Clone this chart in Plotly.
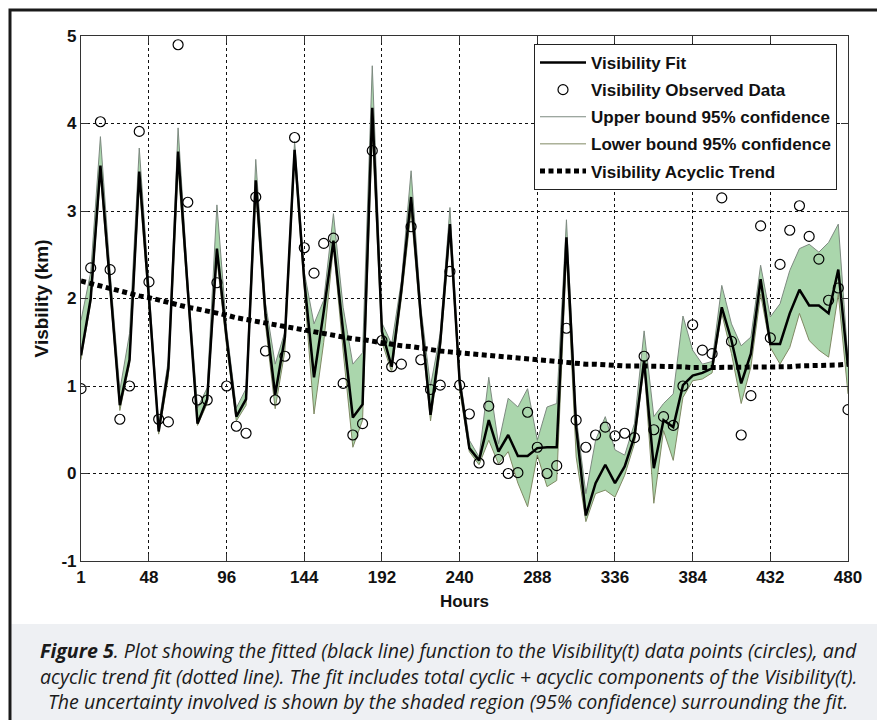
import plotly.graph_objects as go

# Six-hourly samples (index 1..80 -> hours 6..480)
hours = list(range(6, 481, 6))

observed = [0.97, 2.35, 4.02, 2.33, 0.62, 1.00, 3.91, 2.19, 0.62, 0.59,
            4.90, 3.10, 0.84, 0.84, 2.18, 1.00, 0.54, 0.46, 3.16, 1.40,
            0.84, 1.34, 3.84, 2.58, 2.29, 2.63, 2.69, 1.03, 0.44, 0.57,
            3.69, 1.52, 1.22, 1.25, 2.82, 1.30, 0.96, 1.01, 2.31, 1.01,
            0.68, 0.12, 0.77, 0.16, 0.00, 0.01, 0.70, 0.30, 0.00, 0.09,
            1.66, 0.61, 0.30, 0.44, 0.53, 0.43, 0.46, 0.41, 1.34, 0.50,
            0.65, 0.55, 1.00, 1.70, 1.41, 1.37, 3.15, 1.51, 0.44, 0.89,
            2.83, 1.55, 2.39, 2.78, 3.06, 2.71, 2.45, 1.98, 2.12, 0.73]

fit = [1.35, 2.00, 3.52, 2.20, 0.78, 1.30, 3.45, 2.00, 0.48, 1.20,
       3.68, 2.10, 0.57, 0.85, 2.57, 1.55, 0.65, 0.85, 3.35, 1.82,
       0.90, 1.56, 3.70, 2.20, 1.10, 1.85, 2.66, 1.62, 0.64, 0.79,
       4.18, 1.62, 1.22, 2.10, 3.16, 1.80, 0.67, 1.50, 2.85, 1.05,
       0.29, 0.15, 0.61, 0.25, 0.44, 0.20, 0.20, 0.29, 0.30, 0.30,
       2.70, 0.53, -0.48, -0.11, 0.10, -0.11, 0.08, 0.42, 1.29, 0.06,
       0.61, 0.53, 1.01, 1.12, 1.15, 1.20, 1.90, 1.52, 1.03, 1.37,
       2.22, 1.48, 1.48, 1.83, 2.10, 1.92, 1.92, 1.83, 2.33, 1.22]

upper = [1.75, 2.30, 3.85, 2.30, 0.95, 1.60, 3.72, 2.10, 0.55, 1.30,
         3.95, 2.20, 0.75, 0.98, 3.07, 1.65, 0.75, 0.97, 3.59, 1.95,
         1.25, 1.62, 3.80, 2.30, 1.71, 1.98, 2.97, 1.90, 1.25, 1.38,
         4.66, 1.72, 1.48, 2.20, 3.46, 1.90, 1.00, 1.60, 3.04, 1.12,
         0.38, 0.19, 1.10, 0.34, 0.86, 0.76, 0.97, 0.38, 0.76, 0.80,
         2.90, 0.65, -0.23, 0.38, 0.65, 0.27, 0.21, 0.57, 1.63, 0.65,
         0.80, 0.91, 1.80, 1.41, 1.25, 1.28, 2.15, 1.71, 1.46, 1.56,
         2.38, 1.79, 1.94, 2.32, 2.57, 2.62, 2.53, 2.64, 2.85, 1.30]

lower = [1.30, 1.95, 3.40, 2.10, 0.72, 1.25, 3.30, 1.90, 0.45, 1.10,
         3.50, 2.00, 0.55, 0.80, 2.45, 1.45, 0.60, 0.78, 3.20, 1.70,
         0.74, 1.40, 3.60, 2.10, 0.68, 1.50, 2.59, 1.40, 0.30, 0.61,
         3.90, 1.50, 1.16, 2.00, 3.00, 1.70, 0.60, 1.40, 2.75, 0.95,
         0.25, 0.10, 0.38, 0.11, 0.25, -0.11, -0.38, 0.21, -0.15, -0.08,
         2.50, 0.19, -0.55, -0.23, -0.19, -0.27, -0.02, 0.34, 1.22, -0.34,
         0.49, 0.15, 0.87, 1.06, 1.08, 1.15, 1.83, 1.37, 0.80, 1.22,
         2.05, 1.44, 1.25, 1.44, 1.83, 1.52, 1.41, 1.33, 2.05, 0.91]

trend = [2.20, 2.17, 2.15, 2.12, 2.09, 2.06, 2.03, 2.01, 1.98, 1.95,
         1.93, 1.90, 1.88, 1.86, 1.83, 1.81, 1.78, 1.76, 1.74, 1.71,
         1.69, 1.67, 1.65, 1.63, 1.62, 1.60, 1.58, 1.56, 1.54, 1.53,
         1.51, 1.49, 1.48, 1.46, 1.45, 1.43, 1.42, 1.40, 1.39, 1.38,
         1.37, 1.35, 1.34, 1.33, 1.32, 1.31, 1.30, 1.29, 1.28, 1.27,
         1.27, 1.26, 1.25, 1.25, 1.24, 1.24, 1.23, 1.23, 1.23, 1.22,
         1.22, 1.22, 1.22, 1.21, 1.21, 1.21, 1.21, 1.21, 1.21, 1.21,
         1.22, 1.22, 1.22, 1.22, 1.23, 1.23, 1.23, 1.24, 1.24, 1.25]

x_tick_vals = [6, 48, 96, 144, 192, 240, 288, 336, 384, 432, 480]
x_tick_text = ["1", "48", "96", "144", "192", "240", "288", "336", "384", "432", "480"]
y_tick_vals = [-1, 0, 1, 2, 3, 4, 5]
y_tick_text = ["-1", "0", "1", "2", "3", "4", "5"]

caption_lines = [
    "<b>Figure 5</b>. Plot showing the fitted (black line) function to the Visibility(t) data points (circles), and",
    "acyclic trend fit (dotted line). The fit includes total cyclic + acyclic components of the Visibility(t).",
    "The uncertainty involved is shown by the shaded region (95% confidence) surrounding the fit.",
]

W, H = 877, 720
L, R, T, B = 81, 848, 36, 561   # plot area in pixels


def px(x):
    return (x - L) / (R - L)


def py(y):
    return (B - y) / (B - T)


SANS = "Liberation Sans, Arial, sans-serif"
AXFONT = dict(family=SANS, size=17, color="#111", weight="bold")

fig = go.Figure()

# confidence band
fig.add_trace(go.Scatter(
    x=hours + hours[::-1], y=upper + lower[::-1],
    fill="toself", fillcolor="rgb(170,214,172)", line=dict(width=0),
    mode="lines", showlegend=False, hoverinfo="skip"))

fig.add_trace(go.Scatter(
    x=hours, y=upper, mode="lines", name="Upper bound 95% confidence",
    line=dict(color="rgb(125,138,128)", width=1), legendrank=3, legendgroup="u"))
fig.add_trace(go.Scatter(
    x=hours, y=lower, mode="lines", name="Lower bound 95% confidence",
    line=dict(color="rgb(128,138,100)", width=1), legendrank=4, legendgroup="l"))

fig.add_trace(go.Scatter(
    x=hours, y=observed, mode="markers", name="Visibility Observed Data",
    marker=dict(symbol="circle-open", size=10, color="black", line=dict(width=1.2)),
    legendrank=2, legendgroup="o"))

fig.add_trace(go.Scatter(
    x=hours, y=fit, mode="lines", name="Visibility Fit",
    line=dict(color="black", width=2.5), legendrank=1, legendgroup="f"))

fig.add_trace(go.Scatter(
    x=hours, y=trend, mode="lines", name="Visibility Acyclic Trend",
    line=dict(color="black", width=5, dash="5px,3.5px"), legendrank=5, legendgroup="t"))

axis_common = dict(
    showgrid=True, gridcolor="#111", gridwidth=1, griddash="3px,3px",
    showline=True, linecolor="#333", linewidth=1.2, mirror="ticks",
    ticks="inside", ticklen=7, tickcolor="#333", zeroline=False,
    tickfont=AXFONT,
)

fig.update_xaxes(range=[6, 480], tickvals=x_tick_vals, ticktext=x_tick_text,
                 title=dict(text="Hours", font=AXFONT, standoff=9), **axis_common)
fig.update_yaxes(range=[-1, 5], tickvals=y_tick_vals, ticktext=y_tick_text,
                 title=dict(text="Visbility (km)", font=dict(family=SANS, size=19, color="#111", weight="bold"),
                            standoff=7), **axis_common)

shapes = [
    # caption panel
    dict(type="rect", xref="paper", yref="paper", x0=px(11.5), x1=px(890), y0=py(624), y1=py(730),
         fillcolor="#eef0f3", line=dict(width=0), layer="below"),
    # outer frame
    dict(type="rect", xref="paper", yref="paper", x0=px(10), x1=px(890), y0=py(740), y1=py(10),
         line=dict(color="#1a1a1a", width=3), fillcolor="rgba(0,0,0,0)"),
]

annotations = []
for text, yc in zip(caption_lines, [650, 676, 701]):
    annotations.append(dict(
        text=text, xref="paper", yref="paper", x=px(448), y=py(yc),
        xanchor="center", yanchor="middle", showarrow=False,
        font=dict(family="Open Sans, Lato, sans-serif", size=19.6, color="#1a1a1a", style="italic")))

fig.update_layout(
    width=W, height=H,
    margin=dict(l=L, r=W - R, t=T, b=H - B, autoexpand=False),
    paper_bgcolor="white", plot_bgcolor="white",
    shapes=shapes, annotations=annotations,
    legend=dict(x=px(534), y=py(44), xanchor="left", yanchor="top",
                bgcolor="white", bordercolor="#222", borderwidth=1,
                font=dict(family=SANS, size=17, color="#111", weight="bold"),
                traceorder="grouped", tracegroupgap=2, itemwidth=46),
)

fig.write_html("out.html")
